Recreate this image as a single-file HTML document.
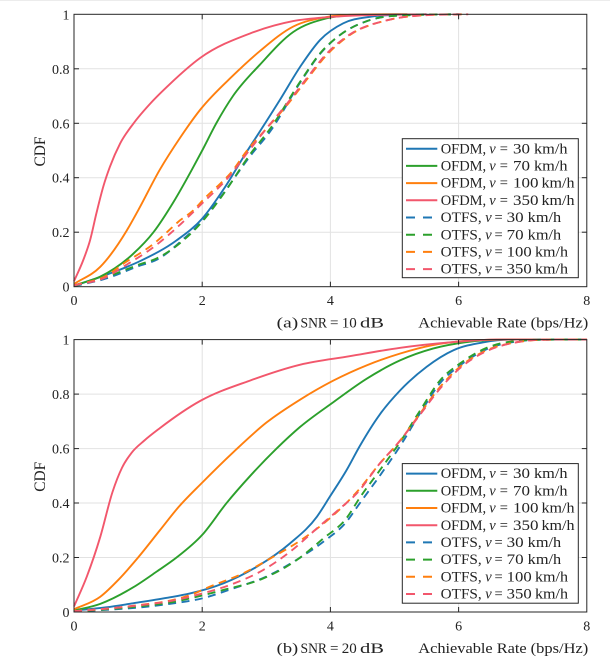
<!DOCTYPE html>
<html><head><meta charset="utf-8">
<style>
html,body{margin:0;padding:0;background:#fff;}
svg{display:block;}
text{font-family:"Liberation Serif",serif;fill:#222;}
.tk{font-size:14px;}
.lg{font-size:14.5px;}
.cap{font-size:15px;}
</style></head><body>
<svg id="s" width="610" height="665" viewBox="0 0 610 665" xmlns="http://www.w3.org/2000/svg">
<rect width="610" height="665" fill="#fff"/>
<rect x="0" y="0" width="610" height="1" fill="#ececec"/>
<defs><clipPath id="cp"><rect x="73" y="12.5" width="515.5" height="276"/></clipPath></defs>

<!-- ================= TOP PANEL ================= -->
<g id="panelA">
  <g stroke="#e2e2e2" stroke-width="1">
    <line x1="202.2" y1="14.3" x2="202.2" y2="286.7"/>
    <line x1="330.4" y1="14.3" x2="330.4" y2="286.7"/>
    <line x1="458.6" y1="14.3" x2="458.6" y2="286.7"/>
    <line x1="74" y1="232.2" x2="586.8" y2="232.2"/>
    <line x1="74" y1="177.7" x2="586.8" y2="177.7"/>
    <line x1="74" y1="123.3" x2="586.8" y2="123.3"/>
    <line x1="74" y1="68.8" x2="586.8" y2="68.8"/>
  </g>
  <g id="curvesA" clip-path="url(#cp)" fill="none" stroke-width="1.9"></g>
  <rect x="74" y="14.3" width="512.8" height="272.4" fill="none" stroke="#262626" stroke-width="1"/>
  <g stroke="#262626" stroke-width="1">
    <line x1="74" y1="232.2" x2="79" y2="232.2"/><line x1="74" y1="177.7" x2="79" y2="177.7"/>
    <line x1="74" y1="123.3" x2="79" y2="123.3"/><line x1="74" y1="68.8" x2="79" y2="68.8"/>
    <line x1="586.8" y1="232.2" x2="581.8" y2="232.2"/><line x1="586.8" y1="177.7" x2="581.8" y2="177.7"/>
    <line x1="586.8" y1="123.3" x2="581.8" y2="123.3"/><line x1="586.8" y1="68.8" x2="581.8" y2="68.8"/>
    <line x1="202.2" y1="286.7" x2="202.2" y2="281.7"/><line x1="330.4" y1="286.7" x2="330.4" y2="281.7"/>
    <line x1="458.6" y1="286.7" x2="458.6" y2="281.7"/>
    <line x1="202.2" y1="14.3" x2="202.2" y2="19.3"/><line x1="330.4" y1="14.3" x2="330.4" y2="19.3"/>
    <line x1="458.6" y1="14.3" x2="458.6" y2="19.3"/>
  </g>
  <g class="tk" text-anchor="end">
    <text x="69.5" y="291.7">0</text><text x="69.5" y="237.2">0.2</text>
    <text x="69.5" y="182.7">0.4</text><text x="69.5" y="128.3">0.6</text>
    <text x="69.5" y="73.8">0.8</text><text x="69.5" y="19.3">1</text>
  </g>
  <g class="tk" text-anchor="middle">
    <text x="74" y="305">0</text><text x="202.2" y="305">2</text><text x="330.4" y="305">4</text>
    <text x="458.6" y="305">6</text><text x="586.8" y="305">8</text>
  </g>
  <text transform="translate(45,151.5) rotate(-90)" text-anchor="middle" font-size="15.5" textLength="30" lengthAdjust="spacingAndGlyphs">CDF</text>
  <g class="cap">
    <text x="276.7" y="327.7" textLength="21.5" lengthAdjust="spacingAndGlyphs">(a)</text>
    <text x="300.5" y="327.7" textLength="26.5" lengthAdjust="spacingAndGlyphs">SNR</text>
    <text x="330" y="327.7">=</text>
    <text x="341.7" y="327.7" textLength="15" lengthAdjust="spacingAndGlyphs">10</text>
    <text x="360" y="327.7" textLength="24" lengthAdjust="spacingAndGlyphs">dB</text>
    <text x="418.3" y="327.7" textLength="108.4" lengthAdjust="spacingAndGlyphs">Achievable Rate</text>
    <text x="530.7" y="327.7" textLength="57.6" lengthAdjust="spacingAndGlyphs">(bps/Hz)</text>
  </g>
  <!-- legend -->
  <rect x="402.3" y="138.7" width="176" height="139" fill="#fff" stroke="#262626" stroke-width="1"/>
  <g stroke-width="2">
    <line x1="406" y1="148.7" x2="437.3" y2="148.7" stroke="#1f77b4"/>
    <line x1="406" y1="165.9" x2="437.3" y2="165.9" stroke="#2ca02c"/>
    <line x1="406" y1="183.1" x2="437.3" y2="183.1" stroke="#ff7f0e"/>
    <line x1="406" y1="200.3" x2="437.3" y2="200.3" stroke="#f2576c"/>
    <line x1="406" y1="217.5" x2="437.3" y2="217.5" stroke="#1f77b4" stroke-dasharray="9,8"/>
    <line x1="406" y1="234.7" x2="437.3" y2="234.7" stroke="#2ca02c" stroke-dasharray="9,8"/>
    <line x1="406" y1="251.9" x2="437.3" y2="251.9" stroke="#ff7f0e" stroke-dasharray="9,8"/>
    <line x1="406" y1="269.1" x2="437.3" y2="269.1" stroke="#f2576c" stroke-dasharray="9,8"/>
  </g>
  <g class="lg">
    <text x="440.7" y="153.3" textLength="45.5" lengthAdjust="spacingAndGlyphs">OFDM,</text><text x="489.3" y="153.3" font-style="italic">v</text><text x="499.7" y="153.3">=</text><text x="513" y="153.3" textLength="17" lengthAdjust="spacingAndGlyphs">30</text><text x="534" y="153.3" textLength="33.5" lengthAdjust="spacingAndGlyphs">km/h</text>
    <text x="440.7" y="170.5" textLength="45.5" lengthAdjust="spacingAndGlyphs">OFDM,</text><text x="489.3" y="170.5" font-style="italic">v</text><text x="499.7" y="170.5">=</text><text x="513" y="170.5" textLength="17" lengthAdjust="spacingAndGlyphs">70</text><text x="534" y="170.5" textLength="33.5" lengthAdjust="spacingAndGlyphs">km/h</text>
    <text x="440.7" y="187.7" textLength="45.5" lengthAdjust="spacingAndGlyphs">OFDM,</text><text x="489.3" y="187.7" font-style="italic">v</text><text x="499.7" y="187.7">=</text><text x="513" y="187.7" textLength="25.5" lengthAdjust="spacingAndGlyphs">100</text><text x="541.5" y="187.7" textLength="33" lengthAdjust="spacingAndGlyphs">km/h</text>
    <text x="440.7" y="204.9" textLength="45.5" lengthAdjust="spacingAndGlyphs">OFDM,</text><text x="489.3" y="204.9" font-style="italic">v</text><text x="499.7" y="204.9">=</text><text x="513" y="204.9" textLength="25.5" lengthAdjust="spacingAndGlyphs">350</text><text x="541.5" y="204.9" textLength="33" lengthAdjust="spacingAndGlyphs">km/h</text>
    <text x="440.7" y="222.1" textLength="41" lengthAdjust="spacingAndGlyphs">OTFS,</text><text x="485.3" y="222.1" font-style="italic">v</text><text x="494.5" y="222.1">=</text><text x="506.7" y="222.1" textLength="17" lengthAdjust="spacingAndGlyphs">30</text><text x="527.7" y="222.1" textLength="33.5" lengthAdjust="spacingAndGlyphs">km/h</text>
    <text x="440.7" y="239.3" textLength="41" lengthAdjust="spacingAndGlyphs">OTFS,</text><text x="485.3" y="239.3" font-style="italic">v</text><text x="494.5" y="239.3">=</text><text x="506.7" y="239.3" textLength="17" lengthAdjust="spacingAndGlyphs">70</text><text x="527.7" y="239.3" textLength="33.5" lengthAdjust="spacingAndGlyphs">km/h</text>
    <text x="440.7" y="256.5" textLength="41" lengthAdjust="spacingAndGlyphs">OTFS,</text><text x="485.3" y="256.5" font-style="italic">v</text><text x="494.5" y="256.5">=</text><text x="506.7" y="256.5" textLength="25" lengthAdjust="spacingAndGlyphs">100</text><text x="535" y="256.5" textLength="33" lengthAdjust="spacingAndGlyphs">km/h</text>
    <text x="440.7" y="273.7" textLength="41" lengthAdjust="spacingAndGlyphs">OTFS,</text><text x="485.3" y="273.7" font-style="italic">v</text><text x="494.5" y="273.7">=</text><text x="506.7" y="273.7" textLength="25" lengthAdjust="spacingAndGlyphs">350</text><text x="535" y="273.7" textLength="33" lengthAdjust="spacingAndGlyphs">km/h</text>
  </g>
</g>

<!-- ================= BOTTOM PANEL ================= -->
<g id="panelB" transform="translate(0,325.3)">
  <g stroke="#e2e2e2" stroke-width="1">
    <line x1="202.2" y1="14.3" x2="202.2" y2="286.7"/>
    <line x1="330.4" y1="14.3" x2="330.4" y2="286.7"/>
    <line x1="458.6" y1="14.3" x2="458.6" y2="286.7"/>
    <line x1="74" y1="232.2" x2="586.8" y2="232.2"/>
    <line x1="74" y1="177.7" x2="586.8" y2="177.7"/>
    <line x1="74" y1="123.3" x2="586.8" y2="123.3"/>
    <line x1="74" y1="68.8" x2="586.8" y2="68.8"/>
  </g>
  <g id="curvesB" clip-path="url(#cp)" fill="none" stroke-width="1.9"></g>
  <rect x="74" y="14.3" width="512.8" height="272.4" fill="none" stroke="#262626" stroke-width="1"/>
  <g stroke="#262626" stroke-width="1">
    <line x1="74" y1="232.2" x2="79" y2="232.2"/><line x1="74" y1="177.7" x2="79" y2="177.7"/>
    <line x1="74" y1="123.3" x2="79" y2="123.3"/><line x1="74" y1="68.8" x2="79" y2="68.8"/>
    <line x1="586.8" y1="232.2" x2="581.8" y2="232.2"/><line x1="586.8" y1="177.7" x2="581.8" y2="177.7"/>
    <line x1="586.8" y1="123.3" x2="581.8" y2="123.3"/><line x1="586.8" y1="68.8" x2="581.8" y2="68.8"/>
    <line x1="202.2" y1="286.7" x2="202.2" y2="281.7"/><line x1="330.4" y1="286.7" x2="330.4" y2="281.7"/>
    <line x1="458.6" y1="286.7" x2="458.6" y2="281.7"/>
    <line x1="202.2" y1="14.3" x2="202.2" y2="19.3"/><line x1="330.4" y1="14.3" x2="330.4" y2="19.3"/>
    <line x1="458.6" y1="14.3" x2="458.6" y2="19.3"/>
  </g>
  <g class="tk" text-anchor="end">
    <text x="69.5" y="291.7">0</text><text x="69.5" y="237.2">0.2</text>
    <text x="69.5" y="182.7">0.4</text><text x="69.5" y="128.3">0.6</text>
    <text x="69.5" y="73.8">0.8</text><text x="69.5" y="19.3">1</text>
  </g>
  <g class="tk" text-anchor="middle">
    <text x="74" y="305">0</text><text x="202.2" y="305">2</text><text x="330.4" y="305">4</text>
    <text x="458.6" y="305">6</text><text x="586.8" y="305">8</text>
  </g>
  <text transform="translate(45,151.5) rotate(-90)" text-anchor="middle" font-size="15.5" textLength="30" lengthAdjust="spacingAndGlyphs">CDF</text>
  <g class="cap">
    <text x="276.7" y="327.7" textLength="21.5" lengthAdjust="spacingAndGlyphs">(b)</text>
    <text x="300.5" y="327.7" textLength="26.5" lengthAdjust="spacingAndGlyphs">SNR</text>
    <text x="330" y="327.7">=</text>
    <text x="341.7" y="327.7" textLength="15" lengthAdjust="spacingAndGlyphs">20</text>
    <text x="360" y="327.7" textLength="24" lengthAdjust="spacingAndGlyphs">dB</text>
    <text x="418.3" y="327.7" textLength="108.4" lengthAdjust="spacingAndGlyphs">Achievable Rate</text>
    <text x="530.7" y="327.7" textLength="57.6" lengthAdjust="spacingAndGlyphs">(bps/Hz)</text>
  </g>
  <rect x="402.3" y="138.3" width="176" height="139.6" fill="#fff" stroke="#262626" stroke-width="1"/>
  <g stroke-width="2">
    <line x1="406" y1="148.3" x2="437.3" y2="148.3" stroke="#1f77b4"/>
    <line x1="406" y1="165.5" x2="437.3" y2="165.5" stroke="#2ca02c"/>
    <line x1="406" y1="182.7" x2="437.3" y2="182.7" stroke="#ff7f0e"/>
    <line x1="406" y1="199.9" x2="437.3" y2="199.9" stroke="#f2576c"/>
    <line x1="406" y1="217.1" x2="437.3" y2="217.1" stroke="#1f77b4" stroke-dasharray="9,8"/>
    <line x1="406" y1="234.3" x2="437.3" y2="234.3" stroke="#2ca02c" stroke-dasharray="9,8"/>
    <line x1="406" y1="251.5" x2="437.3" y2="251.5" stroke="#ff7f0e" stroke-dasharray="9,8"/>
    <line x1="406" y1="268.7" x2="437.3" y2="268.7" stroke="#f2576c" stroke-dasharray="9,8"/>
  </g>
  <g class="lg">
    <text x="440.7" y="152.9" textLength="45.5" lengthAdjust="spacingAndGlyphs">OFDM,</text><text x="489.3" y="152.9" font-style="italic">v</text><text x="499.7" y="152.9">=</text><text x="513" y="152.9" textLength="17" lengthAdjust="spacingAndGlyphs">30</text><text x="534" y="152.9" textLength="33.5" lengthAdjust="spacingAndGlyphs">km/h</text>
    <text x="440.7" y="170.1" textLength="45.5" lengthAdjust="spacingAndGlyphs">OFDM,</text><text x="489.3" y="170.1" font-style="italic">v</text><text x="499.7" y="170.1">=</text><text x="513" y="170.1" textLength="17" lengthAdjust="spacingAndGlyphs">70</text><text x="534" y="170.1" textLength="33.5" lengthAdjust="spacingAndGlyphs">km/h</text>
    <text x="440.7" y="187.3" textLength="45.5" lengthAdjust="spacingAndGlyphs">OFDM,</text><text x="489.3" y="187.3" font-style="italic">v</text><text x="499.7" y="187.3">=</text><text x="513" y="187.3" textLength="25.5" lengthAdjust="spacingAndGlyphs">100</text><text x="541.5" y="187.3" textLength="33" lengthAdjust="spacingAndGlyphs">km/h</text>
    <text x="440.7" y="204.5" textLength="45.5" lengthAdjust="spacingAndGlyphs">OFDM,</text><text x="489.3" y="204.5" font-style="italic">v</text><text x="499.7" y="204.5">=</text><text x="513" y="204.5" textLength="25.5" lengthAdjust="spacingAndGlyphs">350</text><text x="541.5" y="204.5" textLength="33" lengthAdjust="spacingAndGlyphs">km/h</text>
    <text x="440.7" y="221.7" textLength="41" lengthAdjust="spacingAndGlyphs">OTFS,</text><text x="485.3" y="221.7" font-style="italic">v</text><text x="494.5" y="221.7">=</text><text x="506.7" y="221.7" textLength="17" lengthAdjust="spacingAndGlyphs">30</text><text x="527.7" y="221.7" textLength="33.5" lengthAdjust="spacingAndGlyphs">km/h</text>
    <text x="440.7" y="238.9" textLength="41" lengthAdjust="spacingAndGlyphs">OTFS,</text><text x="485.3" y="238.9" font-style="italic">v</text><text x="494.5" y="238.9">=</text><text x="506.7" y="238.9" textLength="17" lengthAdjust="spacingAndGlyphs">70</text><text x="527.7" y="238.9" textLength="33.5" lengthAdjust="spacingAndGlyphs">km/h</text>
    <text x="440.7" y="256.1" textLength="41" lengthAdjust="spacingAndGlyphs">OTFS,</text><text x="485.3" y="256.1" font-style="italic">v</text><text x="494.5" y="256.1">=</text><text x="506.7" y="256.1" textLength="25" lengthAdjust="spacingAndGlyphs">100</text><text x="535" y="256.1" textLength="33" lengthAdjust="spacingAndGlyphs">km/h</text>
    <text x="440.7" y="273.3" textLength="41" lengthAdjust="spacingAndGlyphs">OTFS,</text><text x="485.3" y="273.3" font-style="italic">v</text><text x="494.5" y="273.3">=</text><text x="506.7" y="273.3" textLength="25" lengthAdjust="spacingAndGlyphs">350</text><text x="535" y="273.3" textLength="33" lengthAdjust="spacingAndGlyphs">km/h</text>
  </g>
</g>
</svg>
<script>
(function(){
var NS="http://www.w3.org/2000/svg";
var BLUE="#1f77b4",GREEN="#2ca02c",ORANGE="#ff7f0e",RED="#f2576c";
function X(x){return 74+64.1*x;}
function Y(y){return 286.7-272.4*y;}
function pathFor(pts){
  var n=pts.length,xs=[],ys=[],d=[],h=[],m=[],i;
  for(i=0;i<n;i++){xs.push(pts[i][0]);ys.push(pts[i][1]);}
  for(i=0;i<n-1;i++){h.push(xs[i+1]-xs[i]);d.push((ys[i+1]-ys[i])/h[i]);}
  m[0]=d[0];m[n-1]=d[n-2];
  for(i=1;i<n-1;i++){
    if(d[i-1]*d[i]<=0){m[i]=0;}
    else{m[i]=(h[i]*d[i-1]+h[i-1]*d[i])/(h[i-1]+h[i]);}
  }
  for(i=0;i<n-1;i++){
    if(d[i]===0){m[i]=0;m[i+1]=0;continue;}
    var a=m[i]/d[i],b=m[i+1]/d[i],s=a*a+b*b;
    if(s>9){var t=3/Math.sqrt(s);m[i]=t*a*d[i];m[i+1]=t*b*d[i];}
  }
  var f=function(v){return v.toFixed(2);};
  var str="M"+f(X(xs[0]))+","+f(Y(ys[0]));
  for(i=0;i<n-1;i++){
    var hh=h[i];
    str+="C"+f(X(xs[i]+hh/3))+","+f(Y(ys[i]+m[i]*hh/3))+" "+f(X(xs[i+1]-hh/3))+","+f(Y(ys[i+1]-m[i+1]*hh/3))+" "+f(X(xs[i+1]))+","+f(Y(ys[i+1]));
  }
  return str;
}
function add(gid,pts,color,dashed){
  var p=document.createElementNS(NS,"path");
  p.setAttribute("d",pathFor(pts));
  p.setAttribute("stroke",color);
  p.setAttribute("fill","none");
  p.setAttribute("stroke-width","1.9");
  if(dashed)p.setAttribute("stroke-dasharray","8,5.5");
  document.getElementById(gid).appendChild(p);
}
// ---- Top panel (SNR = 10 dB)
var A=[
 [[[0,0.003],[0.52,0.045],[1.04,0.095],[1.6,0.17],[2.0,0.25],[2.34,0.36],[2.68,0.49],[2.9,0.57],[3.21,0.685],[3.53,0.808],[3.84,0.906],[4.2,0.967],[4.62,0.991],[5.0,0.998],[5.5,1]],BLUE,0],
 [[[0,0.005],[0.41,0.037],[0.92,0.12],[1.24,0.2],[1.55,0.31],[1.84,0.43],[2.0,0.5],[2.22,0.6],[2.48,0.7],[2.9,0.815],[3.42,0.935],[3.94,0.985],[4.5,0.998],[5.2,1]],GREEN,0],
 [[[0,0.01],[0.41,0.073],[0.82,0.205],[1.0,0.28],[1.34,0.43],[1.65,0.545],[1.97,0.65],[2.48,0.775],[2.9,0.865],[3.42,0.955],[3.94,0.99],[4.5,0.999],[5.2,1]],ORANGE,0],
 [[[0,0.02],[0.145,0.098],[0.25,0.17],[0.35,0.27],[0.46,0.37],[0.56,0.44],[0.72,0.526],[0.93,0.60],[1.2,0.675],[1.5,0.745],[1.97,0.84],[2.75,0.93],[3.42,0.975],[4,0.99],[4.8,0.998],[5.5,1]],RED,0],
 [[[0,0.002],[0.5,0.03],[1.0,0.075],[1.3,0.1],[1.73,0.18],[1.94,0.226],[2.29,0.33],[2.76,0.483],[3.06,0.57],[3.53,0.75],[3.84,0.855],[4.15,0.924],[4.62,0.979],[5.24,0.997],[6.0,1]],BLUE,1],
 [[[0,0.003],[0.5,0.035],[1.0,0.08],[1.3,0.105],[1.6,0.15],[2.0,0.239],[2.3,0.33],[2.76,0.49],[3.06,0.58],[3.53,0.753],[3.84,0.857],[4.15,0.924],[4.62,0.979],[5.24,0.997],[6.0,1]],GREEN,1],
 [[[0,0.005],[0.5,0.04],[0.78,0.086],[1.25,0.159],[1.45,0.2],[1.63,0.239],[1.86,0.28],[2.04,0.325],[2.29,0.38],[2.44,0.416],[2.7,0.5],[3.0,0.58],[3.3,0.66],[3.63,0.76],[3.94,0.85],[4.31,0.925],[4.88,0.978],[5.5,0.997],[6.1,1]],ORANGE,1],
 [[[0,0.005],[0.5,0.035],[0.78,0.075],[1.25,0.147],[1.45,0.185],[2.0,0.306],[2.44,0.41],[2.7,0.49],[3.0,0.58],[3.3,0.665],[3.63,0.765],[3.94,0.855],[4.31,0.927],[4.88,0.978],[5.5,0.997],[6.15,1]],RED,1]
];
// ---- Bottom panel (SNR = 20 dB)
var B=[
 [[[0,0.005],[0.5,0.017],[0.92,0.032],[1.45,0.052],[1.81,0.068],[2.33,0.105],[2.85,0.166],[3.37,0.252],[3.79,0.35],[3.99,0.423],[4.25,0.52],[4.46,0.61],[4.77,0.725],[5.09,0.814],[5.5,0.90],[5.92,0.961],[6.39,0.99],[6.8,1],[8,1]],BLUE,0],
 [[[0,0.005],[0.41,0.03],[0.92,0.09],[1.3,0.15],[1.6,0.2],[2.0,0.283],[2.38,0.4],[2.75,0.5],[3.16,0.6],[3.53,0.68],[4.05,0.771],[4.57,0.857],[5.09,0.924],[5.6,0.967],[6.1,0.99],[6.8,1],[8,1]],GREEN,0],
 [[[0,0.01],[0.41,0.056],[0.7,0.12],[1.0,0.2],[1.34,0.30],[1.63,0.385],[2.0,0.475],[2.5,0.59],[3.0,0.695],[3.53,0.78],[4.05,0.85],[4.57,0.906],[5.09,0.949],[5.6,0.98],[6.1,0.995],[6.8,1],[8,1]],ORANGE,0],
 [[[0,0.02],[0.2,0.13],[0.41,0.276],[0.6,0.44],[0.75,0.53],[0.9,0.585],[1.1,0.63],[1.34,0.675],[1.97,0.775],[2.75,0.85],[3.53,0.908],[4.3,0.939],[5.09,0.97],[5.87,0.99],[6.6,1],[8,1]],RED,0],
 [[[0,0.002],[0.5,0.008],[1.0,0.016],[1.5,0.03],[2.0,0.05],[2.49,0.087],[3.0,0.13],[3.53,0.2],[3.89,0.258],[4.25,0.331],[4.46,0.4],[4.77,0.5],[5.09,0.61],[5.4,0.73],[5.71,0.84],[6.02,0.905],[6.44,0.965],[6.9,0.993],[7.5,1],[8,1]],BLUE,1],
 [[[0,0.002],[0.5,0.01],[1.0,0.02],[1.5,0.035],[1.81,0.05],[2.33,0.081],[2.95,0.123],[3.47,0.19],[3.89,0.27],[4.25,0.344],[4.46,0.42],[4.77,0.52],[5.09,0.625],[5.4,0.74],[5.71,0.85],[6.02,0.912],[6.44,0.97],[6.9,0.995],[7.5,1],[8,1]],GREEN,1],
 [[[0,0.003],[0.5,0.012],[1.0,0.025],[1.5,0.042],[1.81,0.062],[2.12,0.093],[2.64,0.142],[3.11,0.203],[3.58,0.27],[3.99,0.344],[4.41,0.44],[4.77,0.545],[5.09,0.63],[5.4,0.729],[5.71,0.826],[6.02,0.9],[6.44,0.961],[6.9,0.99],[7.5,1],[8,1]],ORANGE,1],
 [[[0,0.003],[0.5,0.012],[1.0,0.024],[1.5,0.04],[2.0,0.068],[2.43,0.099],[2.95,0.154],[3.37,0.221],[3.79,0.307],[4.15,0.38],[4.41,0.435],[4.77,0.545],[5.09,0.63],[5.4,0.725],[5.71,0.82],[6.02,0.895],[6.44,0.958],[6.9,0.99],[7.5,1],[8,1]],RED,1]
];
var i;
for(i=0;i<A.length;i++)add("curvesA",A[i][0],A[i][1],A[i][2]);
for(i=0;i<B.length;i++)add("curvesB",B[i][0],B[i][1],B[i][2]);
})();
</script>
</body></html>
